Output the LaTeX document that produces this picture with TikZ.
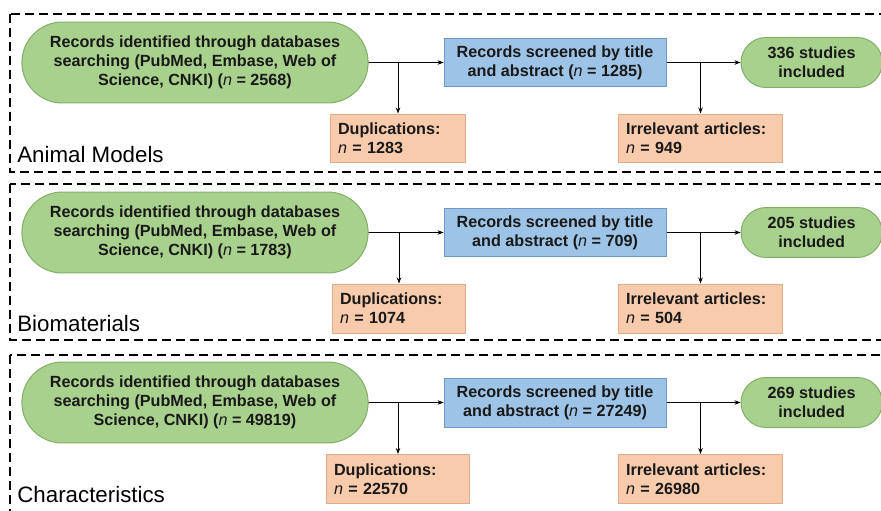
\documentclass[tikz,border=0pt]{standalone}
\usepackage{fontspec}
\setmainfont{Liberation Sans}
\usetikzlibrary{shapes.misc,arrows.meta,positioning}

\definecolor{recgreen}{HTML}{A9D18E}
\definecolor{recgreenline}{HTML}{82AE66}
\definecolor{scrblue}{HTML}{9DC3E6}
\definecolor{scrblueline}{HTML}{6E98C8}
\definecolor{exclorange}{HTML}{F8CBAD}
\definecolor{exclorangeline}{HTML}{E2AC88}

\newcommand{\smpn}{\textit{\mdseries n}}

\tikzset{
  boxtext/.style={font=\fontsize{9.2}{10.8}\selectfont\bfseries, text=black!90},
  rec/.style={rounded rectangle, draw=recgreenline, fill=recgreen, line width=0.02cm,
    minimum width=7.16cm, minimum height=1.62cm, align=center, boxtext},
  scr/.style={rectangle, draw=scrblueline, fill=scrblue, line width=0.02cm,
    minimum width=4.44cm, minimum height=0.98cm, align=center, boxtext},
  inc/.style={rounded rectangle, draw=recgreenline, fill=recgreen, line width=0.02cm,
    minimum width=3.06cm, minimum height=1.0cm, align=center, boxtext},
  excl/.style={rectangle, draw=exclorangeline, fill=exclorange, line width=0.02cm,
    text width=2.4cm, inner xsep=0.16cm, minimum height=0.98cm, align=left, boxtext},
  panel/.style={dashed, dash pattern=on 0.18cm off 0.1cm, line width=0.035cm},
  tag/.style={anchor=base west, inner sep=0pt, font=\fontsize{12.7}{14}\selectfont}
}

\begin{document}
\begin{tikzpicture}[x=0.02cm,y=-0.02cm,>={Stealth[length=0.12cm,width=0.09cm]}]
	\useasboundingbox (0,0) rectangle (881,510);
	\clip (0,0) rectangle (881,510);

	% dashed frames
	\draw[panel] (10,14) rectangle (900,172);
	\draw[panel] (10,184) rectangle (900,340);
	\draw[panel] (10,355) rectangle (900,530);

	% Animal Models
	\node (rec1) [rec] at (195,62.5) {Records identified through databases\\searching (PubMed, Embase, Web of\\Science, CNKI) (\smpn{} = 2568)};
	\node (scr1) [scr, right=1.5cm of rec1] {Records screened by title\\and abstract (\smpn{} = 1285)};
	\node (inc1) [inc, right=1.48cm of scr1] {336 studies\\included};
	\node (dup1) [excl] at (398,138.5) {Duplications:\\\smpn{} = 1283};
	\node (irr1) [excl, text width=2.98cm] at (700.5,138.5) {Irrelevant articles:\\\smpn{} = 949};
	\node (lab1) [tag] at (17,162) {Animal Models};
	\draw[->] (rec1) -- (scr1);
	\draw[->] (dup1.north |- rec1) -- (dup1);
	\draw[->] (scr1) -- (inc1);
	\draw[->] (irr1.north |- scr1) -- (irr1);

	% Biomaterials
	\node (rec2) [rec] at (195,232.5) {Records identified through databases\\searching (PubMed, Embase, Web of\\Science, CNKI) (\smpn{} = 1783)};
	\node (scr2) [scr, right=1.5cm of rec2] {Records screened by title\\and abstract (\smpn{} = 709)};
	\node (inc2) [inc, right=1.48cm of scr2] {205 studies\\included};
	\node (dup2) [excl, text width=2.36cm] at (399,308.5) {Duplications:\\\smpn{} = 1074};
	\node (irr2) [excl, text width=2.98cm] at (700.5,308.5) {Irrelevant articles:\\\smpn{} = 504};
	\node (lab2) [tag] at (17,331) {Biomaterials};
	\draw[->] (rec2) -- (scr2);
	\draw[->] (dup2.north |- rec2) -- (dup2);
	\draw[->] (scr2) -- (inc2);
	\draw[->] (irr2.north |- scr2) -- (irr2);

	% Characteristics
	\node (rec3) [rec] at (195,402.5) {Records identified through databases\\searching (PubMed, Embase, Web of\\Science, CNKI) (\smpn{} = 49819)};
	\node (scr3) [scr, right=1.5cm of rec3] {Records screened by title\\and abstract (\smpn{} = 27249)};
	\node (inc3) [inc, right=1.48cm of scr3] {269 studies\\included};
	\node (dup3) [excl, text width=2.56cm] at (398,479) {Duplications:\\\smpn{} = 22570};
	\node (irr3) [excl, text width=2.98cm] at (700.5,479) {Irrelevant articles:\\\smpn{} = 26980};
	\node (lab3) [tag] at (17,502) {Characteristics};
	\draw[->] (rec3) -- (scr3);
	\draw[->] (dup3.north |- rec3) -- (dup3);
	\draw[->] (scr3) -- (inc3);
	\draw[->] (irr3.north |- scr3) -- (irr3);
\end{tikzpicture}
\end{document}
